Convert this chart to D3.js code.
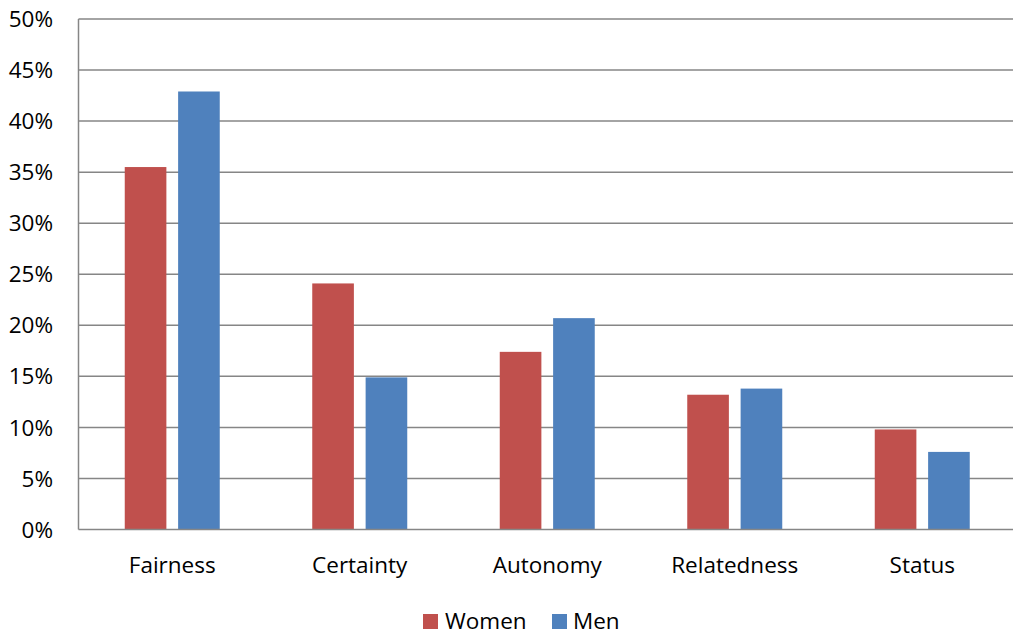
<!DOCTYPE html>
<html><head><meta charset="utf-8">
<script src="https://cdn.jsdelivr.net/npm/d3@7"></script>
<style>body{margin:0;background:#fff}svg{display:block}text{font-family:"Open Sans","Liberation Sans",sans-serif;fill:#000}</style>
</head><body>
<svg id="c" width="1013" height="644"></svg>
<script>
const categories = ["Fairness","Certainty","Autonomy","Relatedness","Status"];
const series = ["Women","Men"];
const women = [35.5, 24.1, 17.4, 13.2, 9.8];
const men = [42.9, 14.9, 20.7, 13.8, 7.6];
const yTicks = [0,5,10,15,20,25,30,35,40,45,50];
const colors = ["#C0504D","#4F81BD"];

const svg = d3.select("#c");
const L = 78.5, R = 1016, T = 19, B = 529.5;
const x = d3.scaleBand().domain(categories).range([L,R]);
const xs = d3.scaleBand().domain(series).range([x.bandwidth()/2-47.5, x.bandwidth()/2+47.5]).paddingInner(0.22);
const y = d3.scaleLinear().domain([0,50]).range([B,T]);

const g = svg.append("g");
g.selectAll("line.grid").data(yTicks.filter(d=>d>0)).enter().append("line")
  .attr("x1",L).attr("x2",R).attr("y1",d=>y(d)).attr("y2",d=>y(d))
  .attr("stroke","#868686").attr("stroke-width",1.5);

const vals = [women, men];
categories.forEach((c,i)=>{
  series.forEach((s,j)=>{
    g.append("rect").attr("x",x(c)+xs(s)).attr("width",xs.bandwidth())
      .attr("y",y(vals[j][i])).attr("height",B-y(vals[j][i])).attr("fill",colors[j]);
  });
});

g.append("line").attr("x1",L).attr("x2",L).attr("y1",T).attr("y2",B).attr("stroke","#868686").attr("stroke-width",1.5);
g.append("line").attr("x1",L).attr("x2",R).attr("y1",B).attr("y2",B).attr("stroke","#868686").attr("stroke-width",1.5);

g.selectAll("text.yt").data(yTicks).enter().append("text")
  .attr("x",53).attr("y",d=>y(d)).attr("dy","0.36em").attr("text-anchor","end")
  .style("font-size","22.5px").text(d=>d+"%");

g.selectAll("text.xt").data(categories).enter().append("text")
  .attr("x",d=>x(d)+x.bandwidth()/2).attr("y",573).attr("text-anchor","middle")
  .style("font-size","22.5px").text(d=>d);

const leg = [{n:"Women",sx:423,tx:445},{n:"Men",sx:552,tx:573}];
leg.forEach((d,i)=>{
  svg.append("rect").attr("x",d.sx).attr("y",614).attr("width",15).attr("height",15).attr("fill",colors[i]);
  svg.append("text").attr("x",d.tx).attr("y",629).style("font-size","22.5px").text(d.n);
});
</script>
</body></html>
